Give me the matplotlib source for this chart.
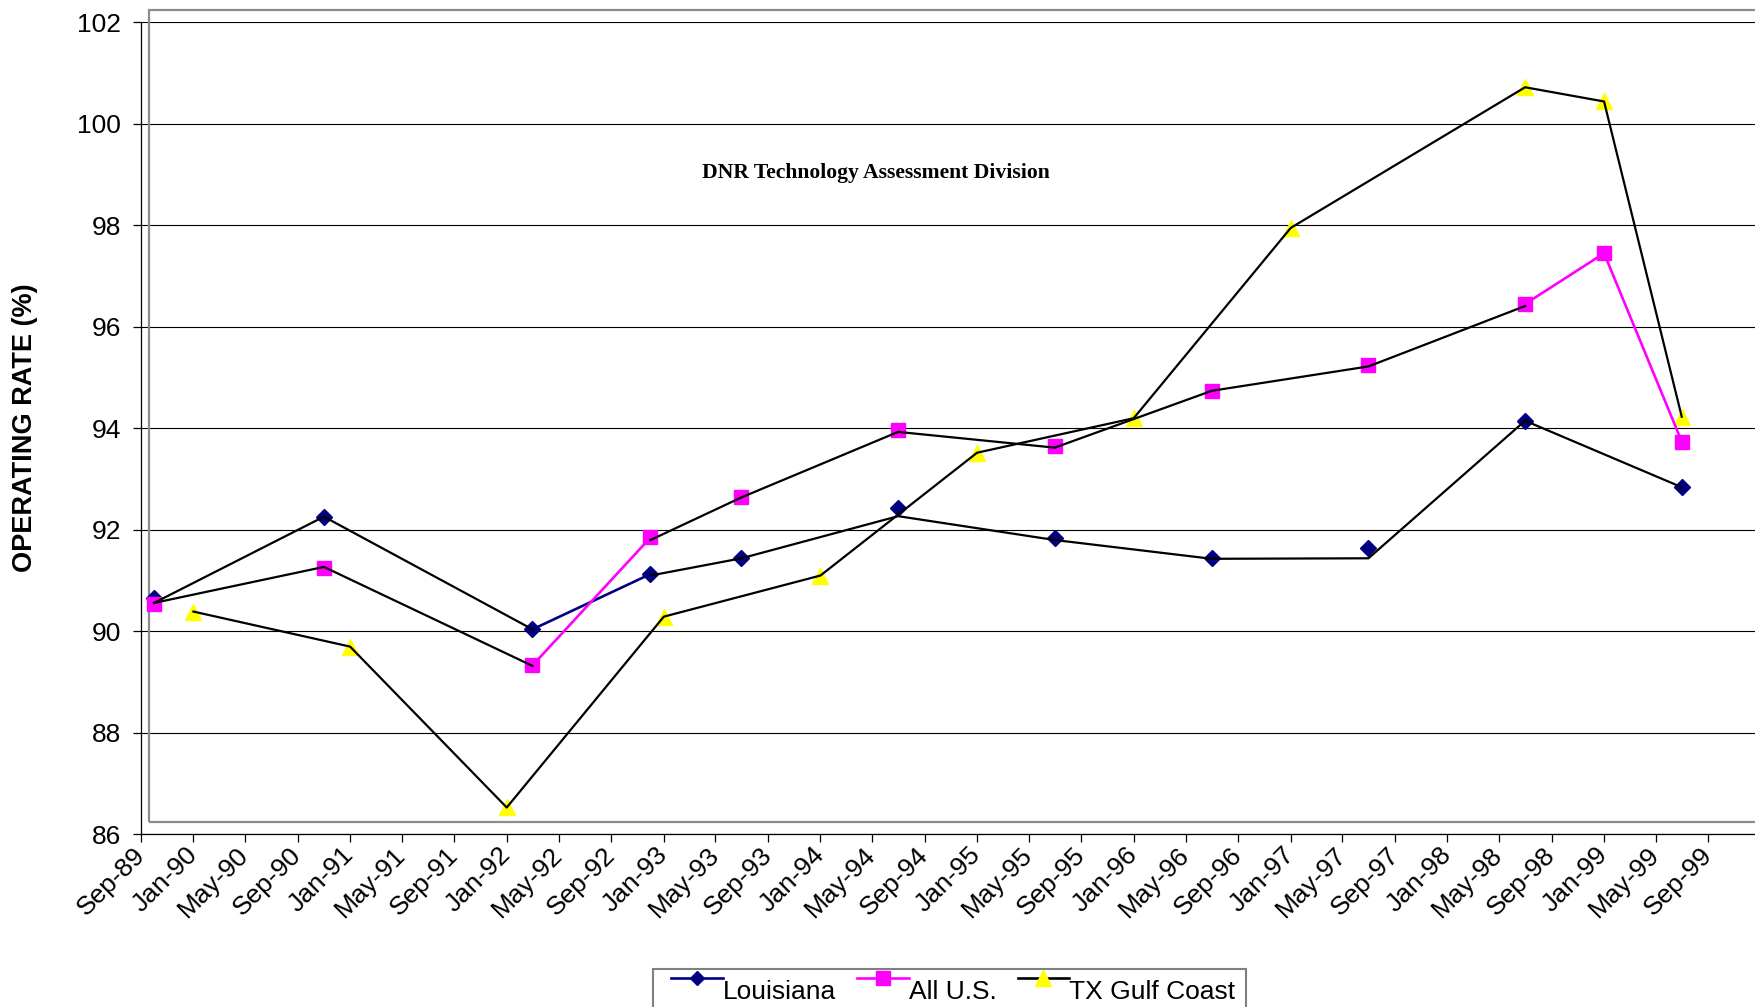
import matplotlib
matplotlib.use("Agg")
import numpy as np
import pandas as pd
import matplotlib.pyplot as plt
import matplotlib.dates as mdates
from matplotlib.legend_handler import HandlerLine2D
from matplotlib.lines import Line2D
from matplotlib.patches import Rectangle

plt.rcParams['font.family'] = ['Liberation Sans', 'DejaVu Sans']

# Refinery operating rate (%) by region
la_dates = ["1989-10", "1990-11", "1992-03", "1992-12", "1993-07", "1994-07",
            "1995-07", "1996-07", "1997-07", "1998-07", "1999-07"]
la_rate = [90.65, 92.25, 90.04, 91.13, 91.44, 92.43, 91.83, 91.44, 91.65, 94.14, 92.84]

us_dates = ["1989-10", "1990-11", "1992-03", "1992-12", "1993-07", "1994-07",
            "1995-07", "1996-07", "1997-07", "1998-07", "1999-01", "1999-07"]
us_rate = [90.54, 91.24, 89.33, 91.85, 92.64, 93.96, 93.66, 94.74, 95.25, 96.45, 97.45, 93.74]

tx_dates = ["1990-01", "1991-01", "1992-01", "1993-01", "1994-01", "1995-01",
            "1996-01", "1997-01", "1998-07", "1999-01", "1999-07"]
tx_rate = [90.39, 89.70, 86.53, 90.29, 91.10, 93.52, 94.20, 97.95, 100.72, 100.44, 94.23]

# Black connecting traces drawn over the markers
trace_early_dates = ["1989-10", "1990-11", "1992-03"]
la_trace_early = [90.56, 92.26, 90.04]
us_trace_early = [90.56, 91.27, 89.32]

la_trace_late_dates = ["1992-12", "1993-07", "1994-07", "1995-07", "1996-07",
                       "1997-07", "1998-07", "1999-07"]
la_trace_late = [91.10, 91.44, 92.27, 91.80, 91.43, 91.44, 94.15, 92.84]

us_trace_late_dates = ["1992-12", "1993-07", "1994-07", "1995-07", "1996-07",
                       "1997-07", "1998-07"]
us_trace_late = [91.80, 92.64, 93.93, 93.62, 94.74, 95.22, 96.41]

# Index spans of each series drawn in the series colour
la_colour_spans = [(2, 3)]
us_colour_spans = [(2, 3), (9, 11)]

series_names = ["Louisiana", "All U.S.", "TX Gulf Coast"]
y_ticks = list(range(86, 103, 2))
x_start, x_last_label, x_end = "1989-09", "1999-09", "2000-01"

NAVY, MAGENTA, YELLOW = "#000080", "#FF00FF", "#FFFF00"


def to_dt(values):
    return pd.to_datetime(values, format="%Y-%m")


W, H = 1756, 1007
fig = plt.figure(figsize=(W / 100, H / 100), dpi=100)
ax = fig.add_axes([141.1 / W, (H - 834.4) / H, (1760.7 - 141.1) / W, (834.4 - 22.3) / H])
ax.set_axisbelow(True)

# markers
ax.plot(to_dt(la_dates), la_rate, ls="none", marker="D", ms=8,
        mfc=NAVY, mec=NAVY, zorder=2)
ax.plot(to_dt(us_dates), us_rate, ls="none", marker="s", ms=10,
        mfc=MAGENTA, mec=MAGENTA, zorder=2)
ax.plot(to_dt(tx_dates), tx_rate, ls="none", marker="^", ms=11.5,
        mfc=YELLOW, mec=YELLOW, zorder=2)

# coloured segments
la_x = to_dt(la_dates)
for i, j in la_colour_spans:
    ax.plot(la_x[i:j + 1], la_rate[i:j + 1], color=NAVY, lw=1.9, zorder=3)
us_x = to_dt(us_dates)
for i, j in us_colour_spans:
    ax.plot(us_x[i:j + 1], us_rate[i:j + 1], color=MAGENTA, lw=1.9, zorder=3)

# black traces
ax.plot(to_dt(tx_dates), tx_rate, color="black", lw=1.6, zorder=3)
ax.plot(to_dt(trace_early_dates), la_trace_early, color="black", lw=1.6, zorder=3)
ax.plot(to_dt(trace_early_dates), us_trace_early, color="black", lw=1.6, zorder=3)
ax.plot(to_dt(la_trace_late_dates), la_trace_late, color="black", lw=1.6, zorder=3)
ax.plot(to_dt(us_trace_late_dates), us_trace_late, color="black", lw=1.6, zorder=3)

# axes
ax.set_xlim(pd.Timestamp(x_start), pd.Timestamp(x_end))
ax.set_ylim(y_ticks[0], y_ticks[-1])
ax.set_yticks(y_ticks)
ax.set_xticks(pd.date_range(x_start, x_last_label, freq="4MS"))
ax.xaxis.set_major_formatter(mdates.DateFormatter("%b-%y"))
ax.grid(axis="y", color="black", lw=0.8)
for side in ("top", "right"):
    ax.spines[side].set_visible(False)
for side in ("left", "bottom"):
    ax.spines[side].set_color("black")
    ax.spines[side].set_linewidth(0.9)
ax.tick_params(axis="y", length=6, width=0.9, pad=8.5, labelsize=19, direction="out")
ax.tick_params(axis="x", length=6, width=0.9, pad=6, labelsize=19, direction="out")
for lab in ax.get_xticklabels():
    lab.set_rotation(45)
    lab.set_ha("right")
    lab.set_va("center")
    lab.set_rotation_mode("anchor")

# plot-area frame
frame = Rectangle((149 / W, 1 - 822 / H), (1800 - 149) / W, (822 - 10) / H,
                  transform=fig.transFigure, fill=False, edgecolor="#8c8c8c",
                  lw=1.6, zorder=1, clip_on=False)
ax.add_artist(frame)

fig.text(25 / W, 1 - 428 / H, "OPERATING RATE (%)", rotation=90, fontsize=19.5,
         weight="bold", ha="center", va="center")
fig.text(876 / W, 1 - 173 / H, "DNR Technology Assessment Division",
         family=["Liberation Serif", "DejaVu Serif"], weight="bold", fontsize=15.6,
         ha="center", va="center")


class LegendLineHandler(HandlerLine2D):
    """Draws the legend sample over the right part of the handle box, raised a little."""

    def __init__(self, dy, line_em, **kw):
        super().__init__(**kw)
        self.dy = dy
        self.line_em = line_em

    def create_artists(self, legend, orig_handle, xdescent, ydescent,
                       width, height, fontsize, trans):
        arts = super().create_artists(legend, orig_handle, xdescent, ydescent,
                                      width, height, fontsize, trans)
        for a in arts:
            x = np.asarray(a.get_xdata(), dtype=float)
            x1 = x[-1]
            a.set_xdata(np.linspace(x1 - self.line_em * fontsize, x1, len(x)))
            a.set_ydata(np.asarray(a.get_ydata(), dtype=float) + self.dy)
        return arts


handles = [
    Line2D([], [], color=NAVY, lw=1.9, marker="D", ms=7.5, mfc=NAVY, mec=NAVY),
    Line2D([], [], color=MAGENTA, lw=1.9, marker="s", ms=9.5, mfc=MAGENTA, mec=MAGENTA),
    Line2D([], [], color="black", lw=1.9, marker="^", ms=11, mfc=YELLOW, mec=YELLOW),
]
leg = fig.legend(handles, series_names, loc="upper left",
                 bbox_to_anchor=(653 / W, 1 - 969 / H), bbox_transform=fig.transFigure,
                 ncol=3, frameon=True, fancybox=False, edgecolor="#808080",
                 framealpha=1, borderpad=0.4, borderaxespad=0, handlelength=2.25,
                 handletextpad=0.0, columnspacing=0.5, fontsize=19, numpoints=1,
                 handler_map={h: LegendLineHandler(8.5, 1.95) for h in handles})
leg.get_frame().set_linewidth(1.5)

fig.savefig("out.png", dpi=100)
